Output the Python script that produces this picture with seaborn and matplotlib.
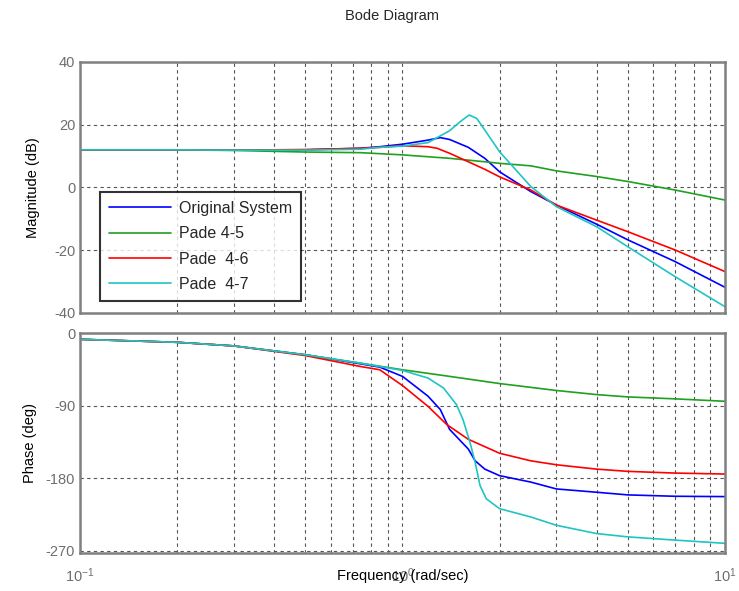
import numpy as np
import pandas as pd
import matplotlib
matplotlib.use("Agg")
import matplotlib.pyplot as plt
import seaborn as sns

series_names = ["Original System", "Pade 4-5", "Pade  4-6", "Pade  4-7"]
series_colors = ["#0000ff", "#1fa01f", "#ff0000", "#20c4c4"]

# ---- magnitude data (rad/sec, dB) ----
w_mag_orig = [0.1, 0.2, 0.3, 0.5, 0.74, 0.85, 1.0, 1.2, 1.31, 1.40, 1.60, 1.80, 2.0, 2.5, 3.0, 4.0, 5.0, 7.0, 10.0]
mag_orig = [12.0, 12.0, 11.9, 12.0, 12.5, 13.0, 13.8, 15.1, 15.9, 15.3, 12.8, 9.3, 5.0, -1.3, -5.6, -11.7, -16.7, -23.6, -31.8]

w_mag_p45 = [0.1, 0.2, 0.3, 0.5, 0.74, 1.0, 1.2, 1.4, 1.8, 2.0, 2.5, 3.0, 4.0, 5.0, 7.0, 10.0]
mag_p45 = [12.0, 12.0, 11.8, 11.3, 11.1, 10.4, 9.8, 9.3, 8.2, 7.7, 6.9, 5.3, 3.5, 1.9, -0.8, -4.0]

w_mag_p46 = [0.1, 0.2, 0.3, 0.5, 0.74, 0.85, 1.0, 1.2, 1.28, 1.40, 1.60, 1.80, 2.0, 2.5, 3.0, 4.0, 5.0, 7.0, 10.0]
mag_p46 = [12.0, 12.0, 11.9, 12.1, 12.5, 12.8, 13.3, 13.0, 12.5, 10.9, 8.2, 5.8, 3.4, -0.8, -5.6, -10.4, -14.1, -19.9, -26.8]

w_mag_p47 = [0.1, 0.2, 0.3, 0.5, 0.74, 0.85, 1.0, 1.2, 1.40, 1.51, 1.61, 1.70, 1.80, 2.0, 2.5, 3.0, 4.0, 5.0, 7.0, 10.0]
mag_p47 = [12.0, 12.0, 11.9, 11.9, 12.2, 12.8, 13.2, 14.3, 18.1, 21.0, 23.1, 22.0, 18.3, 11.4, 0.3, -6.1, -12.5, -18.9, -28.4, -38.0]

# ---- phase data (rad/sec, deg) ----
w_ph_orig = [0.1, 0.2, 0.3, 0.5, 0.74, 0.85, 1.0, 1.2, 1.31, 1.40, 1.60, 1.68, 1.80, 2.0, 2.5, 3.0, 4.0, 5.0, 7.0, 10.0]
ph_orig = [-7.8, -11.5, -16.0, -27.0, -38.2, -42.3, -53.8, -78.4, -95.0, -119.6, -144.0, -158.6, -168.9, -177.0, -185.0, -193.5, -197.6, -200.9, -202.6, -203.0]

w_ph_p45 = [0.1, 0.2, 0.3, 0.5, 0.74, 1.0, 1.4, 2.0, 3.0, 4.0, 5.0, 7.0, 10.0]
ph_p45 = [-7.8, -11.5, -16.0, -27.0, -37.4, -45.6, -53.8, -62.7, -71.3, -76.4, -79.3, -81.7, -84.7]

w_ph_p46 = [0.1, 0.2, 0.3, 0.5, 0.74, 0.85, 1.0, 1.2, 1.37, 1.60, 2.0, 2.5, 3.0, 4.0, 5.0, 7.0, 10.0]
ph_p46 = [-7.8, -11.5, -16.0, -28.0, -41.5, -45.6, -65.2, -91.0, -113.4, -131.9, -149.2, -158.6, -163.5, -168.9, -171.7, -173.8, -175.0]

w_ph_p47 = [0.1, 0.2, 0.3, 0.5, 0.74, 1.0, 1.2, 1.34, 1.47, 1.54, 1.62, 1.68, 1.74, 1.82, 2.0, 2.5, 3.0, 4.0, 5.0, 7.0, 10.0]
ph_p47 = [-7.8, -11.5, -16.0, -27.0, -37.4, -46.4, -55.9, -68.2, -88.8, -107.3, -136.0, -160.6, -189.4, -205.8, -218.0, -228.3, -238.6, -248.9, -253.0, -257.0, -261.0]

mag_sets = [(w_mag_orig, mag_orig), (w_mag_p45, mag_p45), (w_mag_p46, mag_p46), (w_mag_p47, mag_p47)]
ph_sets = [(w_ph_orig, ph_orig), (w_ph_p45, ph_p45), (w_ph_p46, ph_p46), (w_ph_p47, ph_p47)]

def build(sets, col):
    frames = []
    for name, (w, v) in zip(series_names, sets):
        frames.append(pd.DataFrame({"w": w, col: v, "series": name}))
    return pd.concat(frames, ignore_index=True)

df_mag = build(mag_sets, "mag")
df_ph = build(ph_sets, "phase")

sns.set_style("white")
plt.rcParams["font.family"] = ["Liberation Sans", "DejaVu Sans"]
plt.rcParams["axes.unicode_minus"] = False

fig = plt.figure(figsize=(7.39, 5.91), dpi=100)
ax1 = fig.add_axes([0.1083, 0.4704, 0.8727, 0.4247])
ax2 = fig.add_axes([0.1083, 0.0643, 0.8727, 0.3722])

palette = dict(zip(series_names, series_colors))

sns.lineplot(data=df_mag, x="w", y="mag", hue="series", palette=palette,
             hue_order=series_names, estimator=None, sort=True, lw=1.2, ax=ax1)
sns.lineplot(data=df_ph, x="w", y="phase", hue="series", palette=palette,
             hue_order=series_names, estimator=None, sort=True, lw=1.2, ax=ax2, legend=False)

grid_kw = dict(color="#555555", linestyle=(0, (3, 3)), linewidth=0.8)
tick_color = "#6e6e6e"
for ax in (ax1, ax2):
    ax.set_xscale("log")
    ax.set_xlim(0.1, 10)
    ax.grid(which="major", axis="both", **grid_kw)
    ax.grid(which="minor", axis="x", **grid_kw)
    for s in ax.spines.values():
        s.set_color("#808080")
        s.set_linewidth(1.8)
    ax.tick_params(which="both", length=0, colors=tick_color, labelsize=10.5)
    ax.set_xlabel("")

ax1.set_ylim(-40, 40)
ax1.set_yticks([-40, -20, 0, 20, 40])
ax1.tick_params(axis="x", which="both", labelbottom=False)
ax1.set_ylabel("Magnitude (dB)", fontsize=10.5, color="black", labelpad=10)

ax2.set_ylim(-273, 0)
ax2.set_yticks([-270, -180, -90, 0])
ax2.set_ylabel("Phase (deg)", fontsize=10.5, color="black", labelpad=6)
ax2.tick_params(axis="x", pad=10)
ax2.set_xlabel("Frequency (rad/sec)", fontsize=10.5, color="black", labelpad=-12)

leg = ax1.legend(handles=ax1.get_legend().legend_handles, labels=series_names,
                 loc="lower left", bbox_to_anchor=(0.031, 0.049), fontsize=11.5,
                 frameon=True, fancybox=False, handlelength=3.9, labelspacing=0.65,
                 borderpad=0.55, handletextpad=0.5, borderaxespad=0)
leg.get_frame().set_edgecolor("black")
leg.get_frame().set_linewidth(1.5)
for h in leg.legend_handles:
    h.set_linewidth(1.2)

fig.suptitle("Bode Diagram", x=0.53, y=0.985, fontsize=10.5)

fig.savefig("out.png", dpi=100)
